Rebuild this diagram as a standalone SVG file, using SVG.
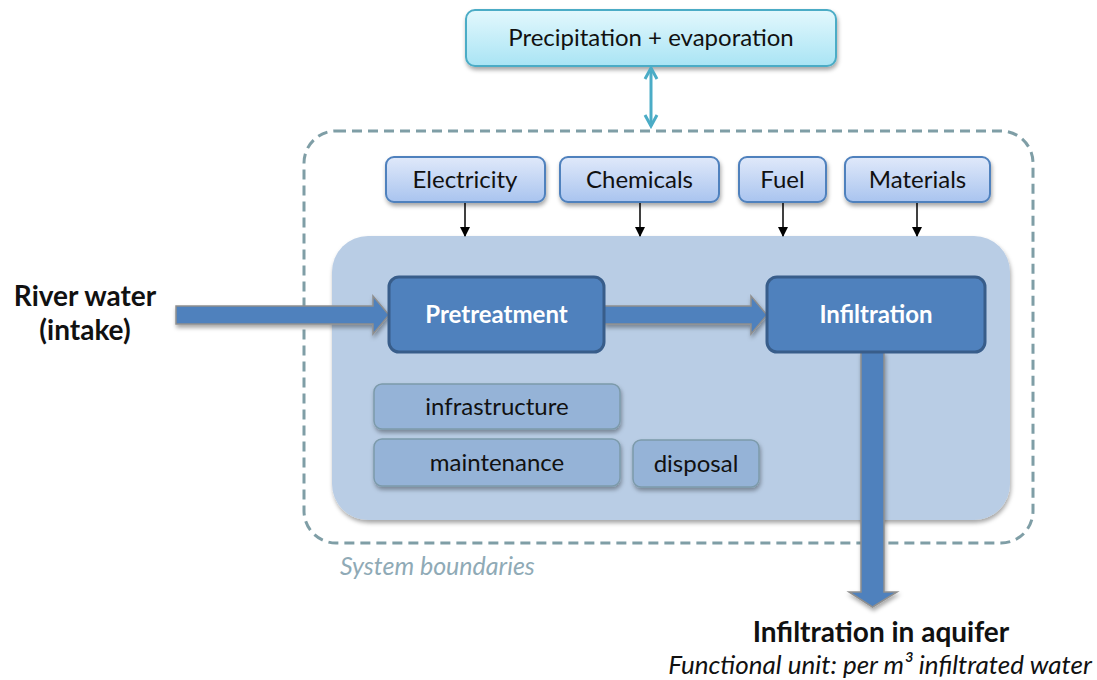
<svg xmlns="http://www.w3.org/2000/svg" width="1097" height="680" viewBox="0 0 1097 680">
<defs>
  <linearGradient id="gCyan" x1="0" y1="0" x2="0" y2="1">
    <stop offset="0" stop-color="#e3f8fd"/>
    <stop offset="1" stop-color="#a9e4f4"/>
  </linearGradient>
  <linearGradient id="gBlue" x1="0" y1="0" x2="0" y2="1">
    <stop offset="0" stop-color="#e0e9fa"/>
    <stop offset="1" stop-color="#a9c4ef"/>
  </linearGradient>
  <filter id="sh" x="-10%" y="-10%" width="130%" height="140%">
    <feDropShadow dx="1" dy="3" stdDeviation="2" flood-color="#000" flood-opacity="0.35"/>
  </filter>
  <marker id="ah" markerWidth="10" markerHeight="10" refX="9" refY="5" orient="auto" markerUnits="userSpaceOnUse">
    <path d="M0,0 L10,5 L0,10 Z" fill="#000"/>
  </marker>
  <marker id="ahc" markerWidth="16" markerHeight="16" refX="13" refY="8" orient="auto-start-reverse" markerUnits="userSpaceOnUse">
    <path d="M2,2 L13,8 L2,14" fill="none" stroke="#4bacc6" stroke-width="3"/>
  </marker>
  <style>
    .lbl{font-family:Lato,"Open Sans","Liberation Sans",sans-serif;fill:#111;}
    .inp{fill:url(#gBlue);stroke:#4f81bd;stroke-width:2;}
    .proc{fill:#4f81bd;stroke:#385d8a;stroke-width:3;}
    .sub{fill:#95b3d7;stroke:#7c9aaa;stroke-width:1.5;}
    .bigarrow{fill:#4f81bd;stroke:#8f8f8f;stroke-width:1.5;}
  </style>
</defs>
<rect width="1097" height="680" fill="#fff"/>

<!-- system boundary -->
<g id="boundary">
  <rect x="304" y="131" width="729" height="412" rx="32" fill="none" stroke="#7f9ea6" stroke-width="3" stroke-dasharray="10,6"/>
  <text x="340" y="575" class="lbl" font-size="25" font-style="italic" style="fill:#8faab6">System boundaries</text>
</g>

<!-- main process area -->
<g id="system">
  <rect x="332" y="236" width="678" height="284" rx="36" fill="#b9cde5" filter="url(#sh)"/>
</g>

<g id="precip">
  <rect x="466" y="10" width="370" height="56" rx="9" fill="url(#gCyan)" stroke="#4bacc6" stroke-width="2" filter="url(#sh)"/>
  <text x="651" y="46" class="lbl" font-size="24" text-anchor="middle">Precipitation + evaporation</text>
</g>

<g id="electricity">
  <rect x="386" y="157" width="159" height="45" rx="8" class="inp" filter="url(#sh)"/>
  <text x="465" y="188" class="lbl" font-size="24" text-anchor="middle">Electricity</text>
</g>
<g id="chemicals">
  <rect x="560" y="157" width="159" height="45" rx="8" class="inp" filter="url(#sh)"/>
  <text x="639.5" y="188" class="lbl" font-size="24" text-anchor="middle">Chemicals</text>
</g>
<g id="fuel">
  <rect x="739" y="157" width="87" height="45" rx="8" class="inp" filter="url(#sh)"/>
  <text x="782.5" y="188" class="lbl" font-size="24" text-anchor="middle">Fuel</text>
</g>
<g id="materials">
  <rect x="845" y="157" width="145" height="45" rx="8" class="inp" filter="url(#sh)"/>
  <text x="917.5" y="188" class="lbl" font-size="24" text-anchor="middle">Materials</text>
</g>

<g id="connectors">
  <line x1="651" y1="68" x2="651" y2="126" stroke="#4bacc6" stroke-width="3" marker-start="url(#ahc)" marker-end="url(#ahc)"/>
  <line x1="465" y1="203" x2="465" y2="236" stroke="#000" stroke-width="1.5" marker-end="url(#ah)"/>
  <line x1="640" y1="203" x2="640" y2="236" stroke="#000" stroke-width="1.5" marker-end="url(#ah)"/>
  <line x1="783" y1="203" x2="783" y2="236" stroke="#000" stroke-width="1.5" marker-end="url(#ah)"/>
  <line x1="917" y1="203" x2="917" y2="236" stroke="#000" stroke-width="1.5" marker-end="url(#ah)"/>
  <path class="bigarrow" filter="url(#sh)" d="M176,306 L373,306 L373,296 L389,315 L373,334 L373,324 L176,324 Z"/>
  <path class="bigarrow" filter="url(#sh)" d="M604,306 L751,306 L751,296 L767,315 L751,334 L751,324 L604,324 Z"/>
  <path class="bigarrow" filter="url(#sh)" d="M861,352 L884,352 L884,592 L897,592 L872.5,607 L849,592 L861,592 Z"/>
</g>

<g id="pretreatment">
  <rect x="389" y="277" width="215" height="75" rx="10" class="proc"/>
  <text x="496.5" y="323" class="lbl" font-size="24" font-weight="bold" text-anchor="middle" style="fill:#fff">Pretreatment</text>
</g>
<g id="infiltration">
  <rect x="767" y="277" width="218" height="75" rx="10" class="proc"/>
  <text x="876" y="323" class="lbl" font-size="24" font-weight="bold" text-anchor="middle" style="fill:#fff">Infiltration</text>
</g>

<g id="infrastructure">
  <rect x="374" y="384" width="246" height="45" rx="8" class="sub" filter="url(#sh)"/>
  <text x="497" y="415" class="lbl" font-size="24" text-anchor="middle">infrastructure</text>
</g>
<g id="maintenance">
  <rect x="374" y="439" width="246" height="47" rx="8" class="sub" filter="url(#sh)"/>
  <text x="497" y="471" class="lbl" font-size="24" text-anchor="middle">maintenance</text>
</g>
<g id="disposal">
  <rect x="633" y="440" width="126" height="47" rx="8" class="sub" filter="url(#sh)"/>
  <text x="696" y="472" class="lbl" font-size="24" text-anchor="middle">disposal</text>
</g>

<g id="river">
  <text x="85" y="306" class="lbl" font-size="28" font-weight="bold" text-anchor="middle">River water</text>
  <text x="85" y="340" class="lbl" font-size="28" font-weight="bold" text-anchor="middle">(intake)</text>
</g>

<g id="aquifer">
  <text x="881" y="642" class="lbl" font-size="28" font-weight="bold" text-anchor="middle">Infiltration in aquifer</text>
  <text x="880" y="674" class="lbl" font-size="26" font-style="italic" text-anchor="middle">Functional unit: per m³ infiltrated water</text>
</g>
</svg>
